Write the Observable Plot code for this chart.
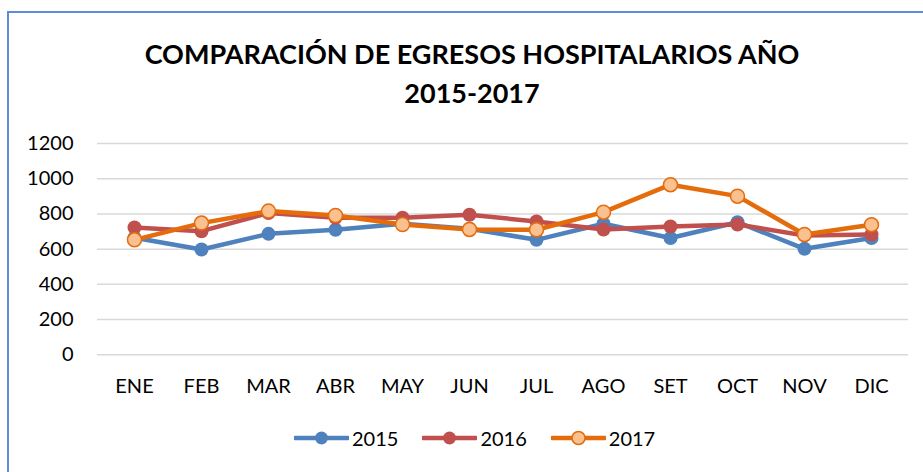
<!DOCTYPE html>
<html><head><meta charset="utf-8">
<script src="https://cdn.jsdelivr.net/npm/d3@7"></script>
<script src="https://cdn.jsdelivr.net/npm/@observablehq/plot@0.6"></script>
<style>
body{margin:0;background:#fff;}
#wrap{position:relative;width:923px;height:472px;overflow:hidden;font-family:Lato,"Open Sans",sans-serif;color:#000;}
#frame{position:absolute;left:7px;top:11px;width:1000px;height:1000px;border-left:2px solid #5B8ED6;border-top:2px solid #5B8ED6;}
#title{position:absolute;left:0;top:34px;width:944px;text-align:center;font-weight:bold;font-size:27px;line-height:39px;}
#chart{position:absolute;left:0;top:120px;}
#legend{position:absolute;left:294px;top:426px;display:flex;align-items:center;font-size:20px;}
.item{display:flex;align-items:center;margin-right:24px;}
.item svg{margin-right:3px;}
</style></head>
<body><div id="wrap"><div id="frame"></div>
<div id="title">COMPARACIÓN DE EGRESOS HOSPITALARIOS AÑO<br>2015-2017</div>
<div id="chart"></div><div id="legend"></div></div>
<script>
const months = ["ENE","FEB","MAR","ABR","MAY","JUN","JUL","AGO","SET","OCT","NOV","DIC"];
const years = ["2015","2016","2017"];
const v2015 = [665, 598, 687, 710, 744, 716, 653, 744, 663, 753, 602, 663];
const v2016 = [723, 702, 805, 778, 778, 795, 757, 712, 729, 740, 678, 683];
const v2017 = [653, 748, 816, 791, 740, 712, 710, 810, 966, 901, 683, 739];
const yTicks = [0, 200, 400, 600, 800, 1000, 1200];
const lineColors = {"2015":"#4F81BD","2016":"#C0504D","2017":"#E46C0A"};
const dotFills = {"2015":"#4F81BD","2016":"#C0504D","2017":"#FAC090"};

const series = {"2015": v2015, "2016": v2016, "2017": v2017};
const marks = [
  Plot.ruleY(yTicks, {stroke:"#D9D9D9", strokeWidth:1.5}),
  Plot.axisY({ticks: yTicks, tickSize:0, tickPadding:24, fontSize:20, tickFormat:d=>String(d)}),
  Plot.axisX({tickSize:0, tickPadding:24, fontSize:20})
];
for (const y of years) {
  const data = months.map((m,i)=>({m, v: series[y][i]}));
  marks.push(Plot.line(data, {x:"m", y:"v", stroke:lineColors[y], strokeWidth:4.5, strokeLinejoin:"round"}));
  marks.push(Plot.dot(data, {x:"m", y:"v", r:7, fill:dotFills[y], stroke: y==="2017" ? "#E46C0A" : dotFills[y], strokeWidth: y==="2017" ? 1.5 : 0}));
}
const chart = Plot.plot({
  width: 923, height: 300,
  marginLeft: 97, marginRight: 15, marginTop: 23, marginBottom: 65.7,
  style: {fontFamily: "Lato, 'Open Sans', sans-serif", color:"#000", background:"transparent"},
  x: {type:"point", domain: months, padding:0.5, label:null},
  y: {domain:[0,1200], label:null},
  marks
});
document.getElementById("chart").appendChild(chart);

const leg = document.getElementById("legend");
for (const y of years) {
  const it = document.createElement("div"); it.className = "item";
  const isO = y==="2017";
  it.innerHTML = `<svg width="55" height="16"><line x1="1" y1="8" x2="54" y2="8" stroke="${lineColors[y]}" stroke-width="4.5" stroke-linecap="round"/><circle cx="27.5" cy="8" r="6.5" fill="${dotFills[y]}" stroke="${isO?'#E46C0A':dotFills[y]}" stroke-width="${isO?1.5:0}"/></svg><span>${y}</span>`;
  leg.appendChild(it);
}
</script></body></html>
